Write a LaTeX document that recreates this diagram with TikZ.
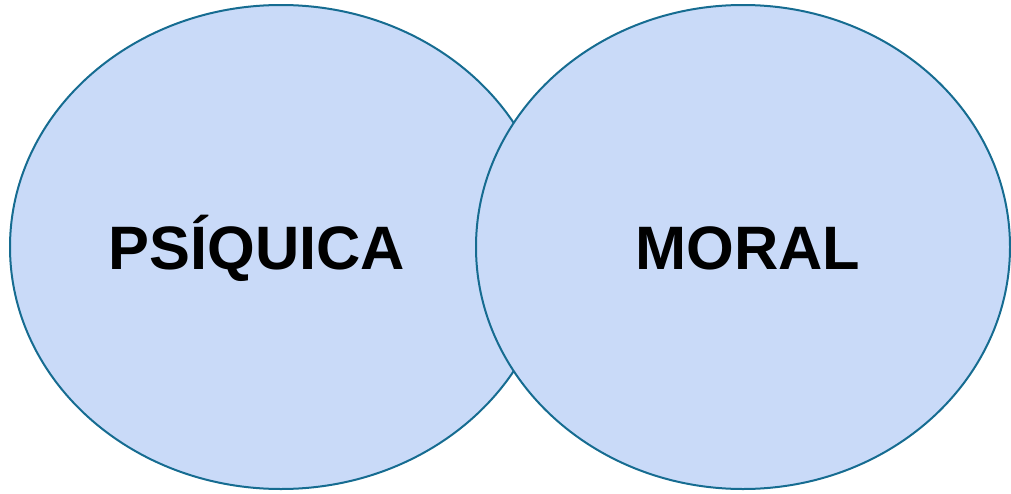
\documentclass[tikz,border=0pt]{standalone}
\usepackage{fontspec}
\setmainfont{Liberation Sans}
\usetikzlibrary{shapes.geometric}

\definecolor{circfill}{HTML}{C9DAF8}
\definecolor{circline}{RGB}{22,108,145}

\begin{document}
\begin{tikzpicture}[
  x=0.75pt,
  y=-0.75pt,
  set/.style={draw=circline, fill=circfill, line width=1.5pt},
  lab/.style={font=\fontsize{46}{54}\selectfont\bfseries, inner sep=0pt}
]

  \useasboundingbox (0,0) rectangle (1011,493);

  % Two overlapping sets, the right one drawn on top.
  \draw[set] (281,247) ellipse [x radius=271, y radius=242];
  \draw[set] (743,247) ellipse [x radius=267, y radius=242];

  % Set labels.
  \node[lab] at (257,248) (psiquica) {PSÍQUICA};
  \node[lab] at (748,248) (moral)    {MORAL};

\end{tikzpicture}
\end{document}
